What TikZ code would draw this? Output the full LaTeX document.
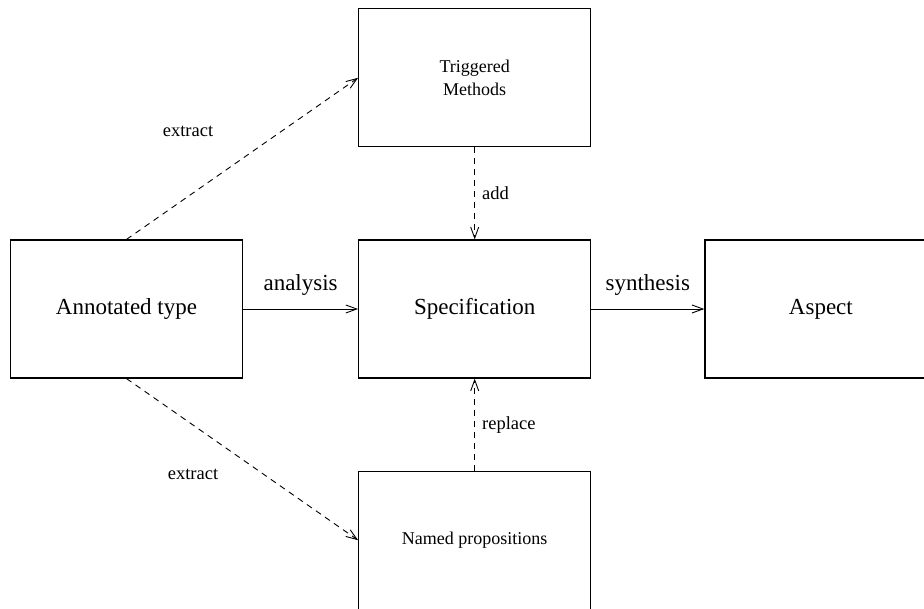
\documentclass[tikz,border=0pt]{standalone}
\usepackage{fontspec}
\setmainfont{Liberation Serif}
\usepackage{tikz}
\usetikzlibrary{positioning}
\usetikzlibrary{arrows,arrows.meta}
\tikzstyle{block} = [draw, line width=1.2pt, fill=white, rectangle, minimum height=138pt, minimum width=232pt, inner sep=0pt, font=\fontsize{23}{27}\selectfont]
\tikzstyle{smallblock} = [block, font=\fontsize{18}{23}\selectfont, align=center]
\tikzstyle{lbl} = [font=\fontsize{18.5}{21}\selectfont, inner sep=1pt]
\tikzstyle{biglbl} = [font=\fontsize{23}{27}\selectfont, inner sep=1pt]
\tikzstyle{flow} = [line width=0.9pt, -{Straight Barb[length=11pt,width=8pt]}]
\tikzstyle{dflow} = [flow, dash pattern=on 6pt off 5pt]

\begin{document}
\begin{tikzpicture}[x=1pt, y=-1pt, node distance=115pt]
	\useasboundingbox (0,0) rectangle (924,608);
	\node [block] (annotated) at (126.5,309) {Annotated type};
	\node [block, right=of annotated] (spec) {Specification};
	\node [block, node distance=113pt, right=of spec] (aspect) {Aspect};
	\node [smallblock, node distance=92pt, above=of spec] (triggered) {Triggered\\Methods};
	\node [smallblock, node distance=92pt, below=of spec] (named) {Named propositions};

	\node [lbl] (extractA) at (188,131) {extract};
	\node [lbl] (extractB) at (193,474) {extract};

	\draw [flow] (annotated) -- node [biglbl, above, yshift=12pt] {analysis} (spec);
	\draw [flow] (spec) -- node [biglbl, above, yshift=12pt] {synthesis} (aspect);
	\draw [dflow] (annotated.north) -- (triggered.west);
	\draw [dflow] (annotated.south) -- (named.west);
	\draw [dflow] (triggered) -- node [lbl, right, xshift=6pt] {add} (spec);
	\draw [dflow] (named) -- node [lbl, right, xshift=6pt] {replace} (spec);

\end{tikzpicture}
\end{document}
